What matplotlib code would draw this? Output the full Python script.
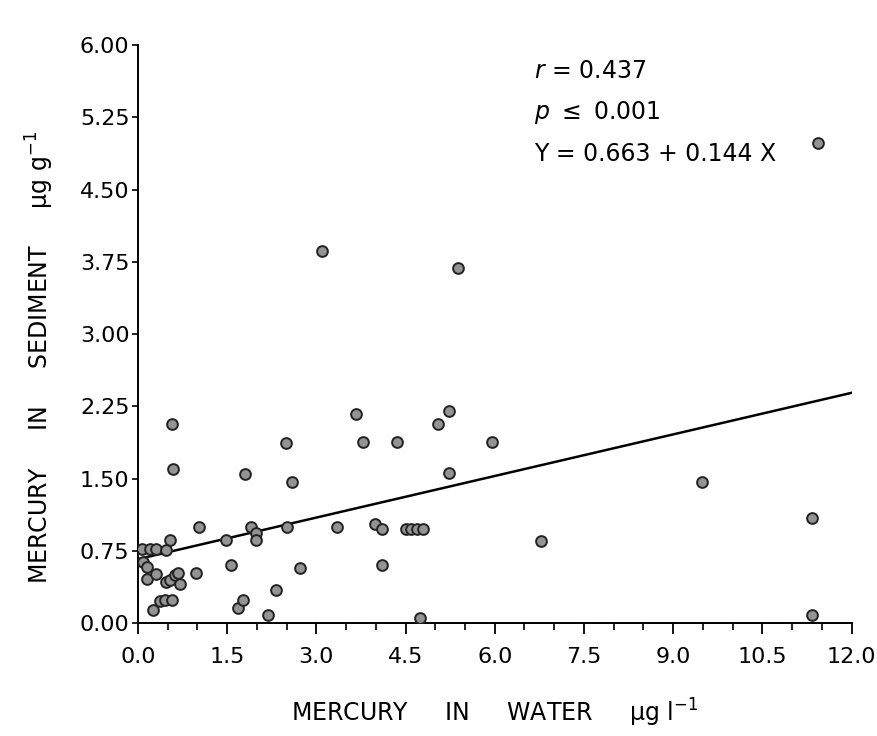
import numpy as np
import matplotlib
matplotlib.use("Agg")
import matplotlib.pyplot as plt
from matplotlib.ticker import MultipleLocator, FormatStrFormatter

# mercury in water (ug/l) vs mercury in sediment (ug/g)
water_hg = [3.09, 5.38, 11.43, 3.67, 3.78, 2.49, 0.57, 0.59, 1.80, 2.59,
            4.36, 5.05, 5.23, 5.23, 5.96, 9.48, 11.33, 11.33, 6.77, 1.03,
            3.34, 1.49, 1.91, 1.99, 1.99, 2.50, 1.56, 2.72, 2.32, 2.19,
            1.69, 1.77, 0.07, 0.20, 0.30, 0.54, 0.48, 0.09, 0.15, 0.15,
            0.31, 0.97, 0.48, 0.54, 0.62, 0.68, 0.71, 0.26, 0.37, 0.45,
            0.57, 3.98, 4.10, 4.50, 4.60, 4.70, 4.80, 4.11, 4.74]
sediment_hg = [3.86, 3.69, 4.98, 2.17, 1.88, 1.87, 2.07, 1.60, 1.55, 1.46,
               1.88, 2.07, 2.20, 1.56, 1.88, 1.46, 1.09, 0.08, 0.85, 1.00,
               1.00, 0.86, 1.00, 0.93, 0.86, 1.00, 0.60, 0.57, 0.34, 0.08,
               0.16, 0.24, 0.77, 0.77, 0.77, 0.86, 0.76, 0.63, 0.58, 0.46,
               0.51, 0.52, 0.43, 0.45, 0.50, 0.52, 0.41, 0.14, 0.23, 0.24,
               0.24, 1.03, 0.98, 0.98, 0.98, 0.98, 0.98, 0.60, 0.05]

# regression given on the chart
intercept = 0.663
slope = 0.144
stats_lines = [r"$\it{r}$ = 0.437", r"$\it{p}$ $\leq$ 0.001", "Y = 0.663 + 0.144 X"]

plt.rcParams['font.family'] = ['DejaVu Sans']

fig = plt.figure(figsize=(8.78, 7.36), dpi=100)
ax = fig.add_axes([0.157, 0.1535, 0.813, 0.785])

ax.scatter(water_hg, sediment_hg, s=60, facecolor='#939393', edgecolor='#222222',
           linewidth=1.4, zorder=3)

fit_x = np.array([0.0, 12.0])
ax.plot(fit_x, intercept + slope * fit_x, color='black', linewidth=1.8, zorder=2)

ax.set_xlim(0, 12)
ax.set_ylim(0, 6)
ax.spines['top'].set_visible(False)
ax.spines['right'].set_visible(False)
ax.spines['left'].set_linewidth(1.4)
ax.spines['bottom'].set_linewidth(1.4)

ax.xaxis.set_major_locator(MultipleLocator(1.5))
ax.xaxis.set_minor_locator(MultipleLocator(0.5))
ax.xaxis.set_major_formatter(FormatStrFormatter('%.1f'))
ax.yaxis.set_major_locator(MultipleLocator(0.75))
ax.yaxis.set_major_formatter(FormatStrFormatter('%.2f'))
ax.tick_params(axis='x', which='major', length=8, width=1.3, labelsize=16, pad=9)
ax.tick_params(axis='x', which='minor', length=5, width=1.2)
ax.tick_params(axis='y', which='major', length=4, width=1.2, labelsize=16, pad=2)

ax.set_xlabel("MERCURY     IN     WATER     μg l$^{-1}$", fontsize=17, labelpad=22)
ax.set_ylabel("MERCURY     IN     SEDIMENT     μg g$^{-1}$", fontsize=17)
ax.yaxis.set_label_coords(-0.115, 0.46)

for i, line in enumerate(stats_lines):
    ax.text(0.555, 0.955 - i * 0.072, line, transform=ax.transAxes,
            fontsize=17, ha='left', va='center')

fig.savefig("out.png", dpi=100)
